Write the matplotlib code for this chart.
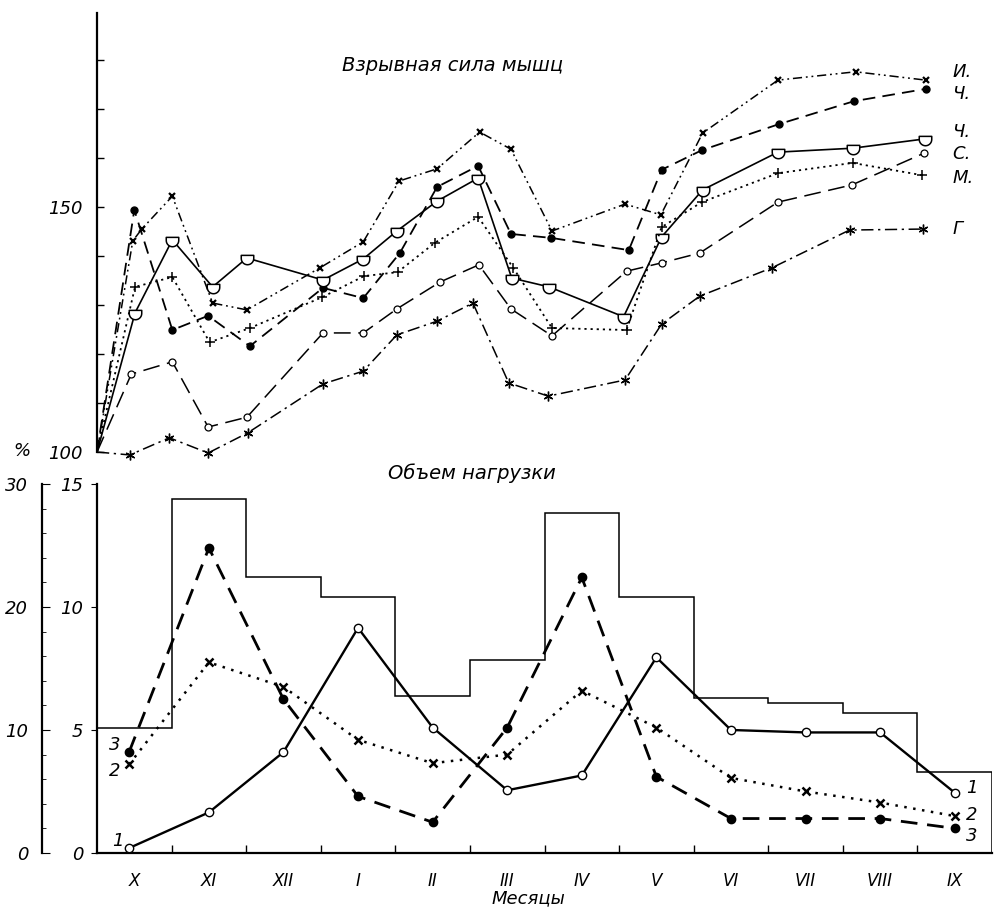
import numpy as np
import matplotlib
matplotlib.use("Agg")
import matplotlib.pyplot as plt
from matplotlib.path import Path

plt.rcParams["font.family"] = ["DejaVu Sans"]
plt.rcParams["font.style"] = "italic"

months = ["X", "XI", "XII", "I", "II", "III", "IV", "V", "VI", "VII", "VIII", "IX"]

# --- верхний график: взрывная сила мышц (% от исходного), x в месяцах от начала X
i_x = [0, 0.48, 0.60, 1.01, 1.55, 2.01, 2.99, 3.57, 4.05, 4.56, 5.13, 5.55, 6.10, 7.08, 7.56, 8.12, 9.13, 10.17, 11.11]
i_y = [100, 143.1, 145.5, 152.2, 130.4, 129.0, 137.6, 142.9, 155.3, 157.8, 165.3, 161.8, 145.1, 150.6, 148.4, 165.1, 175.9, 177.6, 175.9]

ch1_x = [0, 0.50, 1.01, 1.49, 2.05, 3.03, 3.57, 4.06, 4.56, 5.11, 5.55, 6.09, 7.13, 7.57, 8.11, 9.14, 10.15, 11.11]
ch1_y = [100, 149.4, 124.9, 127.8, 121.6, 133.5, 131.4, 140.6, 154.1, 158.4, 144.5, 143.7, 141.2, 157.6, 161.6, 166.9, 171.6, 174.1]

ch2_x = [0, 0.51, 1.01, 1.55, 2.01, 3.03, 3.57, 4.02, 4.56, 5.11, 5.56, 6.06, 7.06, 7.57, 8.12, 9.13, 10.13, 11.10]
ch2_y = [100, 128.4, 143.3, 133.7, 139.6, 135.1, 139.4, 145.1, 151.2, 155.9, 135.5, 133.7, 127.6, 143.9, 153.5, 161.2, 162.0, 163.9]

s_x = [0, 0.46, 1.01, 1.49, 2.01, 3.03, 3.57, 4.02, 4.60, 5.12, 5.55, 6.10, 7.10, 7.57, 8.08, 9.13, 10.12, 11.09]
s_y = [100, 115.9, 118.4, 105.1, 107.1, 124.3, 124.3, 129.2, 134.7, 138.2, 129.2, 123.7, 136.9, 138.6, 140.6, 151.0, 154.5, 161.0]

m_x = [0, 0.51, 1.01, 1.51, 2.05, 3.02, 3.58, 4.03, 4.53, 5.11, 5.58, 6.10, 7.10, 7.57, 8.11, 9.13, 10.13, 11.06]
m_y = [100, 133.7, 135.7, 122.4, 125.3, 131.6, 135.9, 136.7, 142.7, 148.0, 137.6, 125.3, 124.9, 145.9, 151.0, 156.9, 159.0, 156.5]

g_x = [0, 0.44, 0.97, 1.49, 2.02, 3.03, 3.57, 4.02, 4.56, 5.04, 5.52, 6.05, 7.08, 7.57, 8.08, 9.05, 10.09, 11.07]
g_y = [100, 99.4, 102.9, 99.8, 103.9, 113.9, 116.5, 123.9, 126.7, 130.4, 114.1, 111.4, 114.7, 126.1, 131.8, 137.6, 145.3, 145.5]

# --- нижний график: объем нагрузки
load_volume = [5.1, 14.4, 11.2, 10.4, 6.4, 7.85, 13.8, 10.4, 6.3, 6.1, 5.7, 3.3]   # правая шкала 0-15
point_x = [0.43, 1.5, 2.5, 3.5, 4.5, 5.5, 6.5, 7.5, 8.5, 9.5, 10.5, 11.5]
line1_pct = [0.4, 3.3, 8.2, 18.3, 10.2, 5.1, 6.3, 15.9, 10.0, 9.8, 9.8, 4.9]
line2_pct = [7.2, 15.5, 13.5, 9.2, 7.3, 8.0, 13.2, 10.2, 6.1, 5.0, 4.1, 3.0]
line3_pct = [8.2, 24.8, 12.5, 4.6, 2.5, 10.2, 22.4, 6.2, 2.8, 2.8, 2.8, 2.0]

# маркер "чашка": плоский верх, круглый низ
t = np.linspace(0, -np.pi, 15)
cup = Path([(-1, 0.5), (1, 0.5)] + list(zip(np.cos(t), np.sin(t))) + [(-1, 0.5)], closed=True)

fig = plt.figure(figsize=(9.97, 9.08), dpi=100)

# ---------------- верх
ax_t = fig.add_axes([0.0973, 0.5022, 0.8977, 0.4835])
ax_t.set_xlim(0, 12)
ax_t.set_ylim(100, 189.6)

# все кривые выходят из общей точки 100 % без маркера
kw = dict(color="black", clip_on=False, markevery=slice(1, None))
ax_t.plot(i_x, i_y, ls=(0, (6, 2.5, 1.2, 2.5, 1.2, 2.5)), lw=1.1, marker="x", ms=5, mew=1.6, **kw)
ax_t.plot(ch1_x, ch1_y, ls=(0, (7, 4)), lw=1.3, marker="o", ms=5, **kw)
ax_t.plot(ch2_x, ch2_y, ls="-", lw=1.2, marker=cup, ms=9, mfc="white", mew=1.1, **kw)
ax_t.plot(s_x, s_y, ls=(0, (11, 5)), lw=1.1, marker="o", ms=5, mfc="white", mew=0.9, **kw)
ax_t.plot(m_x, m_y, ls=(0, (1.2, 2.2)), lw=1.3, marker="+", ms=7, mew=1.1, **kw)
ax_t.plot(g_x, g_y, ls=(0, (8, 3, 1.5, 3)), lw=1.1, marker=(6, 2, 0), ms=7, mew=1.0, **kw)

for name, yv in [("И.", 177.6), ("Ч.", 173.1), ("Ч.", 165.3), ("С.", 160.8), ("М.", 155.9), ("Г", 145.5)]:
    ax_t.text(11.47, yv, name, fontsize=13, va="center", ha="left")

for sp in ["top", "right", "bottom"]:
    ax_t.spines[sp].set_visible(False)
ax_t.spines["left"].set_linewidth(1.6)
ax_t.xaxis.set_visible(False)
ax_t.set_yticks(range(100, 190, 10))
ax_t.set_yticklabels(["100" if v == 100 else "150" if v == 150 else "" for v in range(100, 190, 10)])
ax_t.tick_params(axis="y", direction="in", length=5, width=1, labelsize=13, pad=10)

# ---------------- низ
ax_b = fig.add_axes([0.0973, 0.0606, 0.8977, 0.4064])
ax_b.set_xlim(0, 12)
ax_b.set_ylim(0, 15)
ax_b.stairs(load_volume, np.arange(13), baseline=0, color="black", lw=1.1)

for sp in ["top", "right"]:
    ax_b.spines[sp].set_visible(False)
ax_b.spines["left"].set_linewidth(1.6)
ax_b.spines["bottom"].set_linewidth(1.6)
ax_b.set_yticks([0, 5, 10, 15])
ax_b.tick_params(axis="y", direction="out", length=4, labelsize=13, pad=6)
ax_b.set_xticks(range(1, 12))
ax_b.set_xticklabels([])
ax_b.tick_params(axis="x", which="major", direction="in", length=6, width=1)
ax_b.set_xticks(np.arange(12) + 0.5, minor=True)
ax_b.set_xticklabels(months, minor=True)
ax_b.tick_params(axis="x", which="minor", length=0, labelsize=12, pad=14)

ax_p = ax_b.twinx()
ax_p.set_ylim(0, 30)
ax_p.plot(point_x, line1_pct, ls="-", lw=1.7, marker="o", ms=6, mfc="white", mew=1.0, color="black", clip_on=False)
ax_p.plot(point_x, line2_pct, ls=(0, (1, 2.6)), lw=1.8, marker="x", ms=6, mew=1.8, color="black", clip_on=False)
ax_p.plot(point_x, line3_pct, ls=(0, (6, 3.5)), lw=2.0, marker="o", ms=6, color="black", clip_on=False)

for sp in ["top", "right", "bottom"]:
    ax_p.spines[sp].set_visible(False)
ax_p.spines["left"].set_visible(True)
ax_p.spines["left"].set_position(("axes", -55 / 895))
ax_p.spines["left"].set_linewidth(1.6)
ax_p.yaxis.tick_left()
ax_p.set_yticks([0, 10, 20, 30])
ax_p.set_yticks(range(0, 31, 2), minor=True)
ax_p.tick_params(axis="y", which="major", direction="in", length=6, labelsize=13, pad=10)
ax_p.tick_params(axis="y", which="minor", direction="in", length=3)

for lbl, xv, yv in [("3", 0.24, 8.8), ("2", 0.24, 6.7), ("1", 0.28, 1.0),
                    ("1", 11.73, 5.3), ("2", 11.73, 3.1), ("3", 11.73, 1.4)]:
    ax_p.text(xv, yv, lbl, fontsize=13, ha="center", va="center")

fig.text(0.454, 0.928, "Взрывная сила мышц", fontsize=14, ha="center", va="center")
fig.text(0.473, 0.479, "Объем нагрузки", fontsize=14, ha="center", va="center")
fig.text(0.530, 0.011, "Месяцы", fontsize=13, ha="center", va="center")
fig.text(0.022, 0.503, "%", fontsize=13, ha="center", va="center")

fig.savefig("out.png", dpi=100, facecolor="white")
